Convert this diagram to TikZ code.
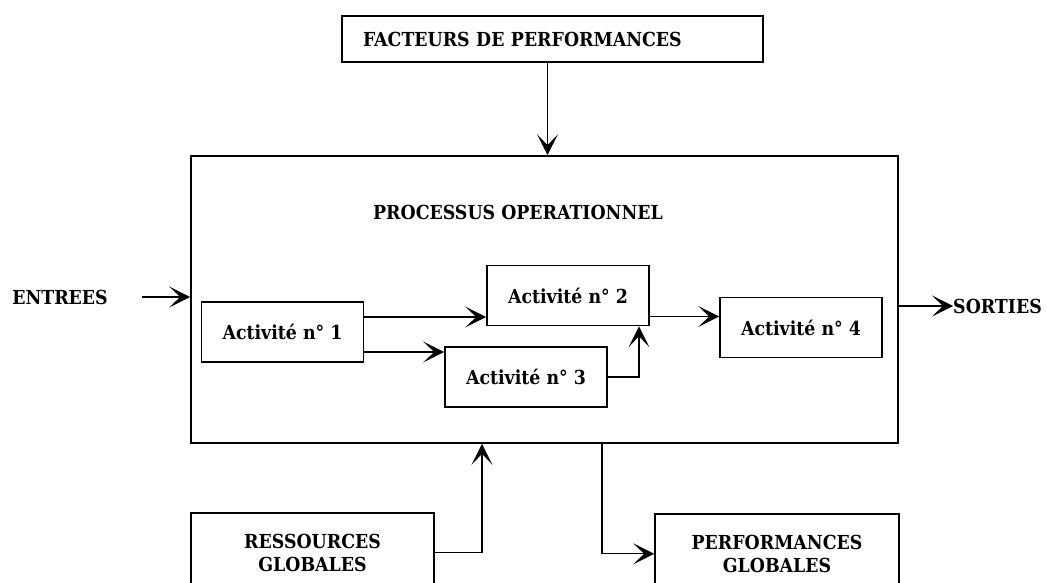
\documentclass[tikz,border=0pt]{standalone}
\usepackage{fontspec}
\setmainfont{DejaVu Serif Condensed}
\usetikzlibrary{arrows.meta,positioning}
\tikzset{
	box/.style={draw, line width=1.6pt, inner sep=0pt, align=center},
	act/.style={box, minimum width=162pt, minimum height=60pt},
	arr/.style={line width=1.3pt, -{Stealth[length=21pt,width=21pt,inset=11pt]}},
	lbl/.style={inner sep=0pt}
}
\begin{document}
\begin{tikzpicture}[x=1pt,y=-1pt,font=\fontsize{19.3}{23}\selectfont\bfseries]
	\path[use as bounding box, clip] (0,0) rectangle (1047,583);
	\node[box, minimum width=707pt, minimum height=287pt] (proc) at (544.5,299.5) {};
	\node[lbl] (titre) at (518,212) {PROCESSUS OPERATIONNEL};
	\node[box, minimum width=421pt, minimum height=46pt, text width=379pt, align=left] (fact) at (552.5,39) {FACTEURS DE PERFORMANCES};
	\foreach \n/\x/\y in {1/282.5/332, 2/568/295.5, 3/526/377, 4/801/327.5}
		\node[act] (act\n) at (\x,\y) {Activité n° \n};
	\node[lbl] (entrees) at (60,297) {ENTREES};
	\node[lbl, anchor=west] (sorties) at (953,306) {SORTIES};
	\node[box, anchor=north, minimum width=243pt, minimum height=80pt] (res) at (312.5,512) {RESSOURCES\\GLOBALES};
	\node[box, anchor=north, minimum width=244pt, minimum height=80pt] (perf) at (777,513) {PERFORMANCES\\GLOBALES};
	% fleches
	\draw[arr] ([xshift=-5pt]fact.south) -- ([xshift=-5pt]fact.south |- proc.north);
	\draw[arr] ([xshift=34pt]entrees.east) -- (entrees.east -| proc.west);
	\draw[arr] (sorties.west -| proc.east) -- (sorties.west);
	\draw[arr] ([yshift=15pt]act1.east) -- ([yshift=15pt]act1.east -| act2.west);
	\draw[arr] ([yshift=-20pt]act1.east) -- ([yshift=-20pt]act1.east -| act3.west);
	\draw[arr] (act3.east) -| ([xshift=71pt]act2.south);
	\draw[arr] ([yshift=-21pt]act2.east) -- ([yshift=-21pt]act2.east -| act4.west);
	\draw[arr] (res.east) -| ([xshift=-62.5pt]proc.south);
	\draw[arr] ([xshift=57.5pt]proc.south) |- (perf.west);
\end{tikzpicture}
\end{document}
